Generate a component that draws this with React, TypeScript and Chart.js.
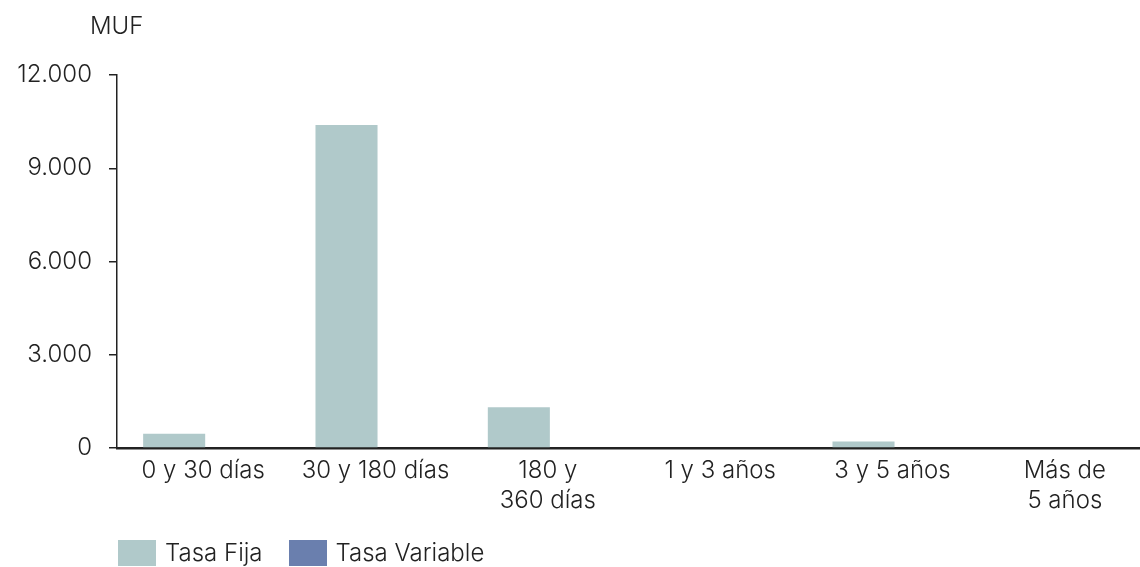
import React, { useEffect, useRef } from "react";
import { Chart, registerables } from "chart.js";

Chart.register(...registerables);

const categories: (string | string[])[] = [
  "0 y 30 días",
  "30 y 180 días",
  ["180 y", "360 días"],
  "1 y 3 años",
  "3 y 5 años",
  ["Más de", "5 años"],
];
const tasaFija = [460, 10390, 1310, 0, 210, 0];
const tasaVariable = [0, 0, 0, 0, 0, 0];
const yTicks = [0, 3000, 6000, 9000, 12000];
const unitLabel = "MUF";

const FONT = "Inter, 'Noto Sans', sans-serif";
const TEXT = "#222222";
const FIJA = "#b0c9ca";
const VARIABLE = "#6a7fae";

const fmt = (v: number) => v.toLocaleString("de-DE");

const unitPlugin = {
  id: "unitLabel",
  afterDraw(chart: any) {
    const { ctx, chartArea } = chart;
    ctx.save();
    ctx.font = `300 24px ${FONT}`;
    ctx.fillStyle = TEXT;
    ctx.textAlign = "left";
    ctx.textBaseline = "middle";
    ctx.fillText(unitLabel, chartArea.left - 27, 27);
    ctx.restore();
  },
};

export default function App() {
  const ref = useRef<HTMLCanvasElement | null>(null);

  useEffect(() => {
    document.body.style.margin = "0";
    if (!ref.current) return;
    const chart = new Chart(ref.current, {
      type: "bar",
      data: {
        labels: categories,
        datasets: [
          {
            label: "Tasa Fija",
            data: tasaFija,
            backgroundColor: FIJA,
            categoryPercentage: 0.673,
            barPercentage: 1.07,
          },
          {
            label: "Tasa Variable",
            data: tasaVariable,
            backgroundColor: VARIABLE,
            categoryPercentage: 0.673,
            barPercentage: 1.07,
          },
        ],
      },
      options: {
        animation: false,
        responsive: false,
        maintainAspectRatio: false,
        layout: { padding: { top: 75, right: 0, bottom: 43, left: 0 } },
        plugins: {
          legend: { display: false },
          tooltip: { enabled: false },
        },
        scales: {
          x: {
            grid: { display: false, drawTicks: false },
            border: { display: true, color: "#222", width: 2.5 },
            ticks: {
              color: TEXT,
              font: { family: FONT, size: 24, weight: 300, lineHeight: 1.25 },
              padding: 8,
              maxRotation: 0,
              autoSkip: false,
            },
          },
          y: {
            min: 0,
            max: 12000,
            afterFit: (s: any) => {
              s.width = 117;
            },
            afterBuildTicks: (s: any) => {
              s.ticks = yTicks.map((v) => ({ value: v }));
            },
            grid: {
              drawOnChartArea: false,
              drawTicks: true,
              tickLength: 8,
              color: "#222",
              lineWidth: 1.5,
            },
            border: { display: true, color: "#222", width: 1.5 },
            ticks: {
              color: TEXT,
              font: { family: FONT, size: 24, weight: 300 },
              padding: 17,
              callback: (v: any) => fmt(Number(v)),
            },
          },
        },
      },
      plugins: [unitPlugin],
    });
    return () => chart.destroy();
  }, []);

  const legendItems = [
    { label: "Tasa Fija", color: FIJA },
    { label: "Tasa Variable", color: VARIABLE },
  ];

  return (
    <div style={{ position: "relative", width: 1140, height: 567, background: "#fff", overflow: "hidden" }}>
      <canvas ref={ref} width={1151} height={567} style={{ display: "block" }} />
      <div
        style={{
          position: "absolute",
          left: 118,
          top: 540,
          display: "flex",
          alignItems: "center",
          fontFamily: FONT,
          fontSize: 24,
          fontWeight: 300,
          color: TEXT,
        }}
      >
        {legendItems.map((it) => (
          <div key={it.label} style={{ display: "flex", alignItems: "center", marginRight: 26 }}>
            <span
              style={{
                display: "inline-block",
                width: 38,
                height: 26,
                background: it.color,
                marginRight: 9,
              }}
            />
            <span style={{ lineHeight: "26px" }}>{it.label}</span>
          </div>
        ))}
      </div>
    </div>
  );
}
